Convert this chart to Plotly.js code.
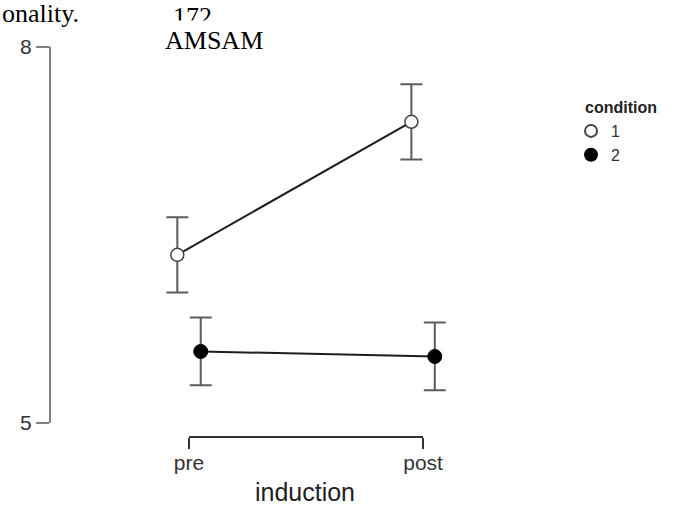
<!DOCTYPE html>
<html>
<head>
<meta charset="utf-8">
<script src="https://cdn.plot.ly/plotly-3.0.1.min.js"></script>
<style>html,body{margin:0;padding:0;background:#fff;}#chart{width:675px;height:509px;}</style>
</head>
<body>
<div id="chart"></div>
<script>
// ---- data ----
var inductionLevels = ["pre", "post"];
var conditions = ["1", "2"];
var cond1Means = [6.34, 7.40];
var cond1Err = [0.30, 0.30];
var cond2Means = [5.57, 5.53];
var cond2Err = [0.27, 0.27];
var yTicks = [5, 8];

var dodge = 0.05;
var basePos = inductionLevels.map(function (d, i) { return i + 1; });
var x1 = basePos.map(function (p) { return p - dodge; });
var x2 = basePos.map(function (p) { return p + dodge; });

var lineCol = '#1e1e1e';
var errCol = '#5c5c5c';

var traces = [
  {x: x1, y: cond1Means, mode: 'lines', line: {color: lineCol, width: 2}, showlegend: false, hoverinfo: 'skip'},
  {x: x2, y: cond2Means, mode: 'lines', line: {color: lineCol, width: 2}, showlegend: false, hoverinfo: 'skip'},
  {x: x1, y: cond1Means, mode: 'markers', name: conditions[0],
   error_y: {type: 'data', array: cond1Err, visible: true, color: errCol, thickness: 2, width: 11},
   marker: {symbol: 'circle', size: 13, color: '#ffffff', line: {color: '#444444', width: 1.5}}},
  {x: x2, y: cond2Means, mode: 'markers', name: conditions[1],
   error_y: {type: 'data', array: cond2Err, visible: true, color: errCol, thickness: 2, width: 11},
   marker: {symbol: 'circle', size: 14, color: '#000000', line: {color: '#000000', width: 1}}}
];

var serif = '"Liberation Serif", "Times New Roman", serif';

var layout = {
  width: 675, height: 509,
  margin: {l: 50, r: 115, t: 40, b: 72},
  paper_bgcolor: '#ffffff', plot_bgcolor: '#ffffff',
  font: {family: '"Liberation Sans", Arial, sans-serif', color: '#333333'},
  showlegend: true,
  legend: {
    x: 1.0216, y: 0.8136, xanchor: 'left', yanchor: 'top',
    font: {size: 16, color: '#333333'},
    itemsizing: 'constant', tracegroupgap: 0, itemwidth: 30
  },
  xaxis: {
    range: [0.406, 2.585],
    tickmode: 'array', tickvals: basePos, ticktext: inductionLevels,
    ticks: 'outside', ticklen: 11, tickwidth: 2, tickcolor: '#333333',
    ticklabelstandoff: -4,
    showline: false, showgrid: false, zeroline: false,
    tickfont: {size: 21, color: '#333333'},
    title: {text: 'induction', font: {size: 25, color: '#222222'}, standoff: 10}
  },
  yaxis: {
    range: [4.8884, 8.0518],
    tickmode: 'array', tickvals: yTicks, ticktext: yTicks.map(String),
    ticks: 'outside', ticklen: 13, tickwidth: 2, tickcolor: '#808080',
    showline: false, showgrid: false, zeroline: false,
    tickfont: {size: 21, color: '#333333'}
  },
  shapes: [
    {type: 'line', xref: 'x', yref: 'paper', x0: basePos[0], x1: basePos[basePos.length - 1], y0: 0, y1: 0,
     line: {color: '#333333', width: 2}},
    {type: 'line', xref: 'paper', yref: 'y', x0: 0, x1: 0, y0: yTicks[0], y1: yTicks[yTicks.length - 1],
     line: {color: '#808080', width: 2}}
  ],
  annotations: [
    {text: 'onality.', xref: 'paper', yref: 'paper', x: -0.098, y: 1.068, xanchor: 'left', yanchor: 'middle',
     showarrow: false, font: {family: serif, size: 26, color: '#000000'}},
    {text: '172', xref: 'paper', yref: 'paper', x: 0.238, y: 1.058, xanchor: 'left', yanchor: 'middle',
     showarrow: false, font: {family: serif, size: 26, color: '#000000'}},
    {text: ' ', xref: 'paper', yref: 'paper', x: 0.22, y: 1.0285, xanchor: 'left', yanchor: 'middle',
     showarrow: false, width: 80, height: 14, bgcolor: '#ffffff', font: {size: 10}},
    {text: 'AMSAM', xref: 'paper', yref: 'paper', x: 0.222, y: 0.9975, xanchor: 'left', yanchor: 'middle',
     showarrow: false, font: {family: serif, size: 26, color: '#000000'}},
    {text: '<b>condition</b>', xref: 'paper', yref: 'paper', x: 1.045, y: 0.831, xanchor: 'left', yanchor: 'middle',
     showarrow: false, font: {size: 16, color: '#222222'}}
  ]
};

Plotly.newPlot('chart', traces, layout, {displayModeBar: false, staticPlot: true});
</script>
</body>
</html>
